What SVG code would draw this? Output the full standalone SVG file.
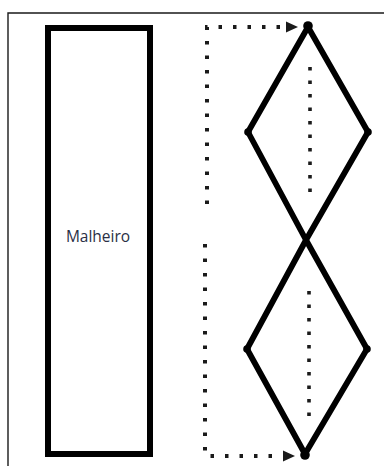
<svg xmlns="http://www.w3.org/2000/svg" width="384" height="466" viewBox="0 0 384 466">
<defs>
<style>
.frame{fill:none;stroke:#1a1a1a;stroke-width:1.4}
.box{fill:#fff;stroke:#000;stroke-width:6}
.dia{fill:none;stroke:#000;stroke-width:5.8;stroke-linejoin:round}
.dot{stroke:#1a1a1a;stroke-width:4;fill:none;stroke-dasharray:3.5 11}
.idot{stroke:#1a1a1a;stroke-width:3.6;fill:none;stroke-dasharray:3.5 10}
.v{fill:#000}
.lbl{font-family:"Open Sans","Liberation Sans",sans-serif;font-size:15.5px;fill:#2a2f45;text-anchor:middle}
</style>
<marker id="arr" markerWidth="14" markerHeight="12" refX="0" refY="6" orient="auto" markerUnits="userSpaceOnUse">
<path d="M0,0.5 L12,6 L0,11.5 Z" fill="#1a1a1a"/>
</marker>
</defs>
<rect width="384" height="466" fill="#fff"/>
<path class="frame" d="M8,480 L8,13 L400,13"/>
<g id="malheiro">
<rect class="box" x="48" y="28" width="102" height="426"/>
<text class="lbl" x="98" y="242">Malheiro</text>
</g>
<g id="diamond-top">
<polygon class="dia" points="308,27 368,132 306,240 248,132"/>
<circle class="v" cx="308" cy="26" r="4.8"/>
<circle class="v" cx="248" cy="132" r="3.8"/>
<circle class="v" cx="368" cy="132" r="3.8"/>
</g>
<g id="diamond-bottom">
<polygon class="dia" points="306,240 367,349 305,454 247,349"/>
<circle class="v" cx="247" cy="349" r="3.8"/>
<circle class="v" cx="367" cy="349" r="3.8"/>
<circle class="v" cx="305" cy="455" r="4.8"/>
</g>
<g id="connectors">
<path class="dot" d="M207,204 L207,27 L286,27" marker-end="url(#arr)"/>
<path class="dot" d="M205,244 L205,456 L283,456" marker-end="url(#arr)"/>
<path class="idot" d="M310,67 L310,195"/>
<path class="idot" d="M309,291 L309,418"/>
</g>
</svg>
